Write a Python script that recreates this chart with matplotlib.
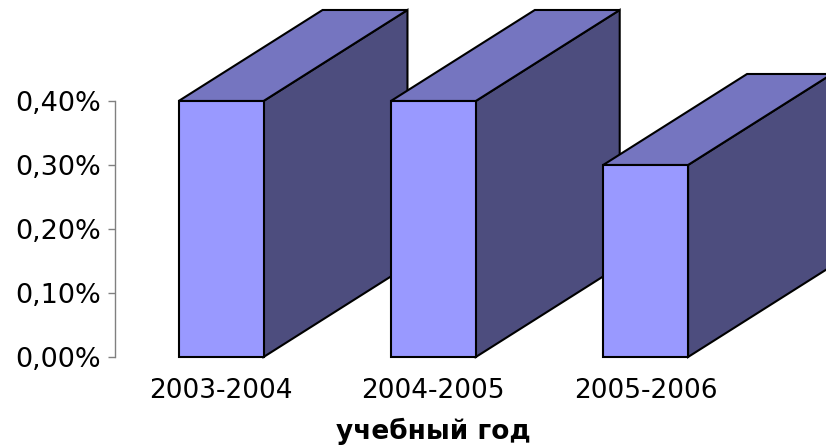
import matplotlib
matplotlib.use("Agg")
import matplotlib.pyplot as plt
from matplotlib.patches import Polygon
from matplotlib.ticker import FuncFormatter

# données
annees = ["2003-2004", "2004-2005", "2005-2006"]
valeurs = [0.004, 0.004, 0.003]
graduations = [0.0, 0.001, 0.002, 0.003, 0.004]

# style
c_face = "#9999FF"
c_dessus = "#7575C0"
c_cote = "#4D4D7E"
larg = 0.4
dx, dy = 0.678, 0.001422   # profondeur 3D

plt.rcParams['font.family'] = ['DejaVu Sans']

fig = plt.figure(figsize=(8.26, 4.48), dpi=100)
ax = fig.add_axes([115/826, 91/448, 711/826, 256/448])
ax.set_xlim(-0.5, 2.85)
ax.set_ylim(0, 0.004)

for i, v in enumerate(valeurs):
    x0, x1 = i - larg/2, i + larg/2
    kw = dict(edgecolor="black", linewidth=1.5, clip_on=False, joinstyle="miter")
    cote = Polygon([(x1, 0), (x1 + dx, dy), (x1 + dx, v + dy), (x1, v)], facecolor=c_cote, **kw)
    dessus = Polygon([(x0, v), (x1, v), (x1 + dx, v + dy), (x0 + dx, v + dy)], facecolor=c_dessus, **kw)
    face = Polygon([(x0, 0), (x1, 0), (x1, v), (x0, v)], facecolor=c_face, **kw)
    for p in (cote, dessus, face):
        ax.add_patch(p)

ax.set_yticks(graduations)
ax.yaxis.set_major_formatter(FuncFormatter(lambda v, pos: f"{v*100:.2f}%".replace(".", ",")))
ax.set_xticks(range(len(annees)))
ax.set_xticklabels(annees, fontsize=19)
ax.tick_params(axis="x", length=0, pad=15)
ax.tick_params(axis="y", direction="out", length=5, width=1, color="#808080", labelsize=19.5, pad=5)

for s in ("top", "right", "bottom"):
    ax.spines[s].set_visible(False)
ax.spines["left"].set_color("#808080")
ax.spines["left"].set_linewidth(1)

# titre de l'axe, centré sous la barre du milieu
ax.set_xlabel("учебный год", fontsize=19, fontweight="bold")
ax.xaxis.set_label_coords((433 - 115) / 711, -(418 - 357) / 256)

fig.savefig("out.png", dpi=100)
